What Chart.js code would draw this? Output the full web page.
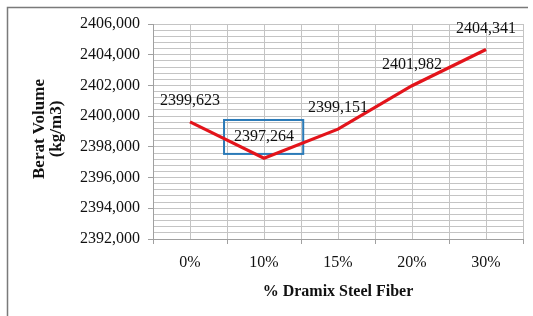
<!DOCTYPE html>
<html>
<head>
<meta charset="utf-8">
<script src="https://cdn.jsdelivr.net/npm/chart.js@4/dist/chart.umd.min.js"></script>
<style>
  html, body { margin: 0; padding: 0; background: #ffffff; }
  #wrap { width: 533px; height: 316px; position: relative; }
</style>
</head>
<body>
<div id="wrap"><canvas id="c" width="533" height="316"></canvas></div>
<script>
// ---- data ----
const categories = ['0%', '10%', '15%', '20%', '30%'];
const beratVolume = [2399.623, 2397.264, 2399.151, 2401.982, 2404.341];
const yTickLabels = ['2392,000', '2394,000', '2396,000', '2398,000', '2400,000', '2402,000', '2404,000', '2406,000'];
const yAxisTitle = ['Berat Volume', '(kg/m3)'];
const xAxisTitle = '% Dramix Steel Fiber';

const SERIF = '"Liberation Serif", "Times New Roman", serif';
const fmt = v => v.toFixed(3).replace('.', ',');

const points = beratVolume.map((v, i) => ({ x: i, y: v }));

const frame = {
  id: 'frame',
  beforeDraw(chart) {
    const ctx = chart.ctx;
    ctx.save();
    ctx.fillStyle = '#ffffff';
    ctx.fillRect(0, 0, chart.width, chart.height);
    ctx.strokeStyle = '#7a7a7a';
    ctx.lineWidth = 1.5;
    ctx.beginPath();
    ctx.moveTo(7.5, 316);
    ctx.lineTo(7.5, 7.5);
    ctx.lineTo(528, 7.5);
    ctx.stroke();
    ctx.restore();
  }
};

const box = {
  id: 'box',
  beforeDatasetsDraw(chart) {
    const { ctx, scales: { x, y } } = chart;
    const x0 = x.getPixelForValue(0.46), x1 = x.getPixelForValue(1.53);
    const y0 = y.getPixelForValue(2399.75), y1 = y.getPixelForValue(2397.54);
    ctx.save();
    ctx.strokeStyle = '#2a7ab8';
    ctx.lineWidth = 2;
    ctx.strokeRect(x0, y0, x1 - x0, y1 - y0);
    ctx.restore();
  }
};

const labelsAndTitles = {
  id: 'labelsAndTitles',
  afterDatasetsDraw(chart) {
    const ctx = chart.ctx;
    const meta = chart.getDatasetMeta(0);
    ctx.save();
    ctx.fillStyle = '#111111';
    ctx.font = '16px ' + SERIF;
    ctx.textAlign = 'center';
    ctx.textBaseline = 'middle';
    meta.data.forEach((pt, i) => {
      ctx.fillText(fmt(beratVolume[i]), pt.x, pt.y - 21);
    });
    // axis titles
    const ca = chart.chartArea;
    ctx.font = 'bold 16px ' + SERIF;
    ctx.fillText(xAxisTitle, (ca.left + ca.right) / 2, 292);
    ctx.font = 'bold 17px ' + SERIF;
    ctx.translate(48, 129);
    ctx.rotate(-Math.PI / 2);
    ctx.fillText(yAxisTitle[0], 0, -8);
    ctx.fillText(yAxisTitle[1], 0, 9);
    ctx.restore();
  }
};

new Chart(document.getElementById('c'), {
  type: 'line',
  data: {
    datasets: [{
      data: points,
      borderColor: '#e3141b',
      borderWidth: 3.2,
      pointRadius: 0,
      tension: 0,
      fill: false
    }]
  },
  options: {
    responsive: false,
    animation: false,
    devicePixelRatio: 1,
    layout: { padding: { left: 0, top: 24, right: 10, bottom: 0 } },
    plugins: { legend: { display: false }, tooltip: { enabled: false } },
    scales: {
      x: {
        type: 'linear',
        min: -0.5,
        max: 4.5,
        afterBuildTicks(scale) {
          const t = [];
          for (let k = 0; k <= 10; k++) t.push({ value: -0.5 + k * 0.5 });
          scale.ticks = t;
        },
        afterFit(scale) { scale.height = 77; },
        ticks: {
          autoSkip: false,
          maxRotation: 0,
          padding: 9,
          color: '#111111',
          font: { family: SERIF, size: 16 },
          callback: (v) => Number.isInteger(v) ? categories[v] : ''
        },
        grid: {
          color: '#c4c4c4',
          lineWidth: 1,
          tickLength: 5,
          tickColor: (c) => (c.tick && Number.isInteger(c.tick.value)) ? 'rgba(0,0,0,0)' : '#a0a0a0'
        },
        border: { color: '#a0a0a0', width: 1 }
      },
      y: {
        type: 'linear',
        min: 2392,
        max: 2406,
        afterBuildTicks(scale) {
          const t = [];
          for (let k = 0; k <= 35; k++) t.push({ value: 2392 + k * 0.4 });
          scale.ticks = t;
        },
        afterFit(scale) { scale.width = 153; },
        ticks: {
          autoSkip: false,
          padding: 8,
          color: '#111111',
          font: { family: SERIF, size: 16 },
          callback: function (v, idx) {
            if (idx % 5 !== 0) return '';
            return yTickLabels[idx / 5];
          }
        },
        grid: {
          color: '#c4c4c4',
          lineWidth: 1,
          tickLength: 5,
          tickColor: (c) => (c.index % 5 === 0) ? '#a0a0a0' : 'rgba(0,0,0,0)'
        },
        border: { color: '#a0a0a0', width: 1 }
      }
    }
  },
  plugins: [frame, box, labelsAndTitles]
});
</script>
</body>
</html>
